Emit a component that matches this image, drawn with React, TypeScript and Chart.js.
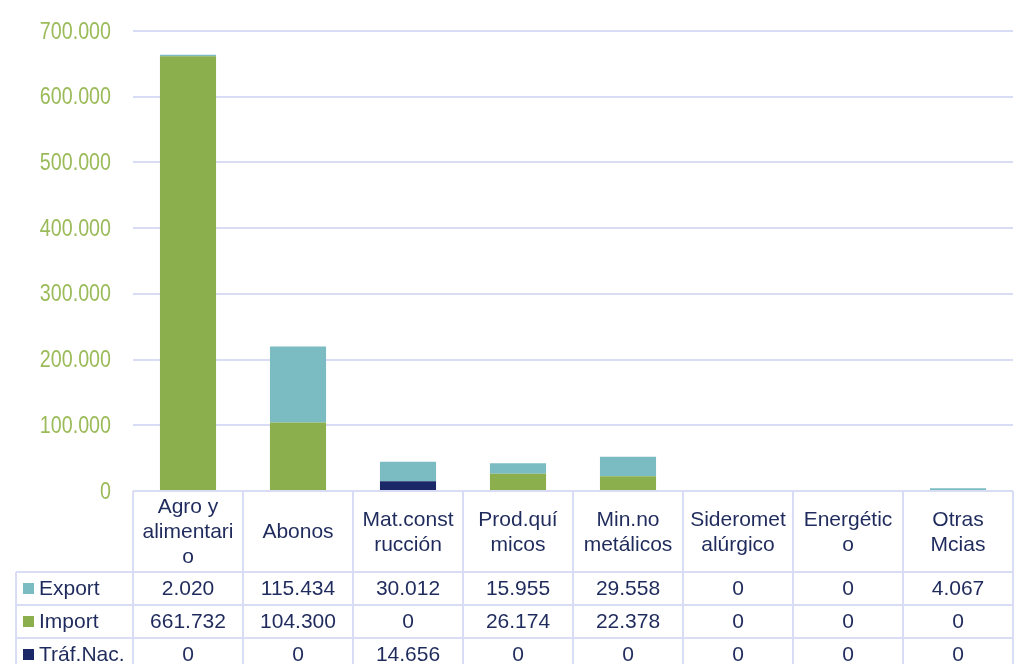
import React, { useEffect, useRef } from "react";
import { Chart, registerables } from "chart.js";

Chart.register(...registerables);

const categories: string[][] = [
  ["Agro y", "alimentari", "o"],
  ["Abonos"],
  ["Mat.const", "rucción"],
  ["Prod.quí", "micos"],
  ["Min.no", "metálicos"],
  ["Sideromet", "alúrgico"],
  ["Energétic", "o"],
  ["Otras", "Mcias"],
];

const exportValues = [2020, 115434, 30012, 15955, 29558, 0, 0, 4067];
const importValues = [661732, 104300, 0, 26174, 22378, 0, 0, 0];
const trafNacValues = [0, 0, 14656, 0, 0, 0, 0, 0];

const seriesNames = ["Export", "Import", "Tráf.Nac."];
const seriesColors = ["#7BBCC2", "#8AAF4C", "#1B2868"];

const yMax = 700000;
const yStep = 100000;

const gridColor = "#D8DCF4";
const textColor = "#1F2B5C";
const tickColor = "#9BBB59";

function fmt(n: number): string {
  return Math.round(n)
    .toString()
    .replace(/\B(?=(\d{3})+(?!\d))/g, ".");
}

const tableRows = [exportValues, importValues, trafNacValues];

const yLabelPlugin = {
  id: "yLabels",
  afterDraw(chart: any) {
    const ctx = chart.ctx as CanvasRenderingContext2D;
    const ys = chart.scales.y;
    ctx.save();
    ctx.fillStyle = tickColor;
    ctx.font = "24px 'Liberation Sans', Arial, sans-serif";
    ctx.textAlign = "right";
    ctx.textBaseline = "middle";
    const sx = 0.82;
    ys.ticks.forEach((t: any) => {
      const y = ys.getPixelForValue(t.value);
      ctx.save();
      ctx.translate(111, y + 1);
      ctx.scale(sx, 1);
      ctx.fillText(fmt(t.value), 0, 0);
      ctx.restore();
    });
    ctx.restore();
  },
};

const tablePlugin = {
  id: "dataTable",
  afterDraw(chart: any) {
    const ctx = chart.ctx as CanvasRenderingContext2D;
    const { left, right, bottom } = chart.chartArea;
    const xs = chart.scales.x;
    const n = categories.length;
    const colW = (right - left) / n;
    const headerH = 81;
    const rowH = 33;
    const headerBottom = bottom + headerH;
    const legendLeft = 16;
    const tableBottom = headerBottom + rowH * tableRows.length;

    ctx.save();
    ctx.strokeStyle = gridColor;
    ctx.lineWidth = 2;
    const line = (x1: number, y1: number, x2: number, y2: number) => {
      ctx.beginPath();
      ctx.moveTo(x1, y1);
      ctx.lineTo(x2, y2);
      ctx.stroke();
    };
    line(left, bottom, right, bottom);
    for (let r = 0; r <= tableRows.length; r++) {
      const y = headerBottom + r * rowH;
      line(legendLeft, y, right, y);
    }
    for (let i = 0; i <= n; i++) {
      const x = left + i * colW;
      line(x, bottom, x, tableBottom);
    }
    line(legendLeft, headerBottom, legendLeft, tableBottom);

    ctx.fillStyle = textColor;
    ctx.font = "21px 'Liberation Sans', Arial, sans-serif";
    ctx.textAlign = "center";
    ctx.textBaseline = "middle";
    const lineH = 25;
    for (let i = 0; i < n; i++) {
      const cx = xs.getPixelForValue(i);
      const lines = categories[i];
      const cy = bottom + headerH / 2;
      const startY = cy - ((lines.length - 1) * lineH) / 2;
      lines.forEach((t, k) => ctx.fillText(t, cx, startY + k * lineH + 1));
    }

    tableRows.forEach((vals, r) => {
      const cy = headerBottom + r * rowH + rowH / 2;
      ctx.fillStyle = seriesColors[r];
      ctx.fillRect(23, cy - 5.5, 11, 11);
      ctx.fillStyle = textColor;
      ctx.textAlign = "left";
      ctx.fillText(seriesNames[r], 39, cy + 1);
      ctx.textAlign = "center";
      vals.forEach((v, i) => {
        ctx.fillText(fmt(v), xs.getPixelForValue(i), cy + 1);
      });
    });
    ctx.restore();
  },
};

export default function App() {
  const ref = useRef<HTMLCanvasElement | null>(null);

  useEffect(() => {
    if (!ref.current) return;
    const chart = new Chart(ref.current, {
      type: "bar",
      data: {
        labels: categories.map((c) => c.join(" ")),
        datasets: [
          {
            label: seriesNames[2],
            data: trafNacValues,
            backgroundColor: seriesColors[2],
          },
          {
            label: seriesNames[1],
            data: importValues,
            backgroundColor: seriesColors[1],
          },
          {
            label: seriesNames[0],
            data: exportValues,
            backgroundColor: seriesColors[0],
          },
        ],
      },
      options: {
        responsive: false,
        animation: false,
        datasets: {
          bar: { categoryPercentage: 1, barPercentage: 0.51 },
        },
        layout: { padding: { left: 0, right: 11, top: 31, bottom: 173 } },
        plugins: {
          legend: { display: false },
          tooltip: { enabled: false },
        },
        scales: {
          x: {
            stacked: true,
            display: false,
          },
          y: {
            stacked: true,
            min: 0,
            max: yMax,
            border: { display: false },
            grid: { color: gridColor, lineWidth: 2, drawTicks: false },
            ticks: {
              stepSize: yStep,
              display: false,
            },
            afterFit: (scale: any) => {
              scale.width = 133;
            },
          },
        },
      },
      plugins: [yLabelPlugin, tablePlugin],
    });
    return () => chart.destroy();
  }, []);

  return (
    <div style={{ position: "absolute", left: 0, top: 0, width: 1024, height: 664, background: "#fff" }}>
      <canvas ref={ref} width={1024} height={664} />
    </div>
  );
}
